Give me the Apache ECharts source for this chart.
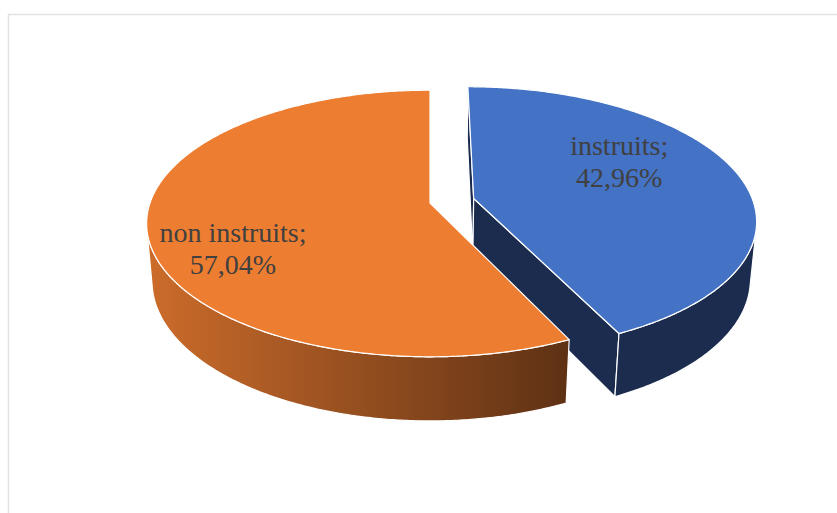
<!DOCTYPE html>
<html>
<head>
<meta charset="utf-8">
<script src="https://cdn.jsdelivr.net/npm/echarts/dist/echarts.min.js"></script>
<style>
  html, body { margin: 0; padding: 0; background: #ffffff; }
  #chart { width: 837px; height: 513px; }
</style>
</head>
<body>
<div id="chart"></div>
<script>
// Shares of the two groups, in percent
const categories = ['instruits', 'non instruits'];
const shares = [42.96, 57.04];

// Top-face colour, and lit / shaded colours of the outer wall, per slice
const topColors = ['#4472C4', '#ED7D31'];
const wallColors = [['#1B2C4F', '#1B2C4F'], ['#CC6C2B', '#5E3114']];

// 3D pie geometry (pixels) and camera
const view = {
  cx: 430, cy: 203,        // projected centre of the top face
  radius: 280,
  depth: 66,               // thickness of the pie
  tilt: 27.7,              // elevation of the eye, degrees
  eyeDist: 1613,           // eye distance for the perspective
  explode: 45,             // pull-out distance of the exploded slice
  explodeIndex: [0],
  labelSpots: [{ r: 0.63, turn: -15.8 }, { r: 0.745, turn: -13.6 }],
  font: '28px "Liberation Serif", "Times New Roman", serif',
  lineHeight: 32
};

function percentText(v) {
  return v.toFixed(2).replace('.', ',') + '%';
}

function renderSlice(params, api) {
  const i = params.dataIndex;
  const total = shares.reduce((s, v) => s + v, 0);
  const before = shares.slice(0, i).reduce((s, v) => s + v, 0);
  const value = api.value(0);
  const a0 = before / total * 2 * Math.PI;
  const a1 = (before + value) / total * 2 * Math.PI;
  const mid = (a0 + a1) / 2;

  const push = view.explodeIndex.indexOf(i) >= 0 ? view.explode : 0;
  const ox = push * Math.sin(mid);
  const oy = push * Math.cos(mid);
  const R = view.radius, H = view.depth, D = view.eyeDist;
  const e = view.tilt * Math.PI / 180;
  const se = Math.sin(e), ce = Math.cos(e);
  const cam = [0, -D * ce, D * se];

  // world: x right, y away from the viewer, z up (top face at z = 0)
  const proj = (p) => {
    const u = p[1] * se + p[2] * ce;
    const d = -p[1] * ce + p[2] * se;
    const f = D / (D - d);
    return [view.cx + p[0] * f, view.cy - u * f];
  };
  const rim = (t, z) => [ox + R * Math.sin(t), oy + R * Math.cos(t), z];
  const facing = (n, p) =>
    n[0] * (cam[0] - p[0]) + n[1] * (cam[1] - p[1]) + n[2] * (cam[2] - p[2]) > 1e-6;

  const edge = { stroke: '#ffffff', lineWidth: 1.2, lineJoin: 'round' };
  const children = [];
  const wall = wallColors[i];
  const wallFill = new echarts.graphic.LinearGradient(0, 0, 1, 0, [
    { offset: 0, color: wall[0] },
    { offset: 1, color: wall[1] }
  ]);

  // radial cut faces
  [[a0, [-Math.cos(a0), Math.sin(a0), 0]], [a1, [Math.cos(a1), -Math.sin(a1), 0]]].forEach(function (c) {
    const t = c[0], n = c[1];
    const probe = [ox + 0.5 * R * Math.sin(t), oy + 0.5 * R * Math.cos(t), -H / 2];
    if (!facing(n, probe)) return;
    const pts = [[ox, oy, 0], rim(t, 0), rim(t, -H), [ox, oy, -H]].map(proj);
    children.push({ type: 'polygon', shape: { points: pts }, style: Object.assign({ fill: wall[1] }, edge) });
  });

  // outer wall, only the part turned to the eye
  const steps = Math.max(2, Math.ceil((a1 - a0) / (Math.PI / 360)));
  const ang = (j) => a0 + (a1 - a0) * j / steps;
  let runStart = -1;
  const flush = (j0, j1) => {
    const top = [], bottom = [];
    for (let j = j0; j <= j1; j++) {
      top.push(proj(rim(ang(j), 0)));
      bottom.push(proj(rim(ang(j), -H)));
    }
    children.push({
      type: 'polygon',
      shape: { points: top.concat(bottom.reverse()) },
      style: Object.assign({ fill: wallFill }, edge)
    });
  };
  for (let j = 0; j < steps; j++) {
    const tm = (ang(j) + ang(j + 1)) / 2;
    const vis = facing([Math.sin(tm), Math.cos(tm), 0], rim(tm, -H / 2));
    if (vis && runStart < 0) runStart = j;
    if (!vis && runStart >= 0) { flush(runStart, j); runStart = -1; }
  }
  if (runStart >= 0) flush(runStart, steps);

  // top face
  const topPts = [proj([ox, oy, 0])];
  for (let j = 0; j <= steps; j++) topPts.push(proj(rim(ang(j), 0)));
  children.push({ type: 'polygon', shape: { points: topPts }, style: Object.assign({ fill: topColors[i] }, edge) });

  // data label on the top face
  const spot = view.labelSpots[i];
  const lt = mid + spot.turn * Math.PI / 180;
  const lp = proj([ox + spot.r * R * Math.sin(lt), oy + spot.r * R * Math.cos(lt), 0]);
  children.push({
    type: 'text',
    style: {
      text: categories[i] + ';\n' + percentText(value),
      x: lp[0], y: lp[1],
      align: 'center', verticalAlign: 'middle',
      font: view.font, lineHeight: view.lineHeight,
      fill: '#404040'
    }
  });

  return { type: 'group', children: children };
}

const chart = echarts.init(document.getElementById('chart'), null, { renderer: 'svg' });
chart.setOption({
  backgroundColor: '#ffffff',
  animation: false,
  graphic: [{
    type: 'rect',
    shape: { x: 8.5, y: 14.5, width: 1000, height: 1000 },
    style: { fill: 'none', stroke: '#e2e2e2', lineWidth: 1.5 },
    silent: true
  }],
  series: [{
    type: 'custom',
    coordinateSystem: 'none',
    renderItem: renderSlice,
    data: shares.map((v, i) => ({ name: categories[i], value: v }))
  }]
});
</script>
</body>
</html>
